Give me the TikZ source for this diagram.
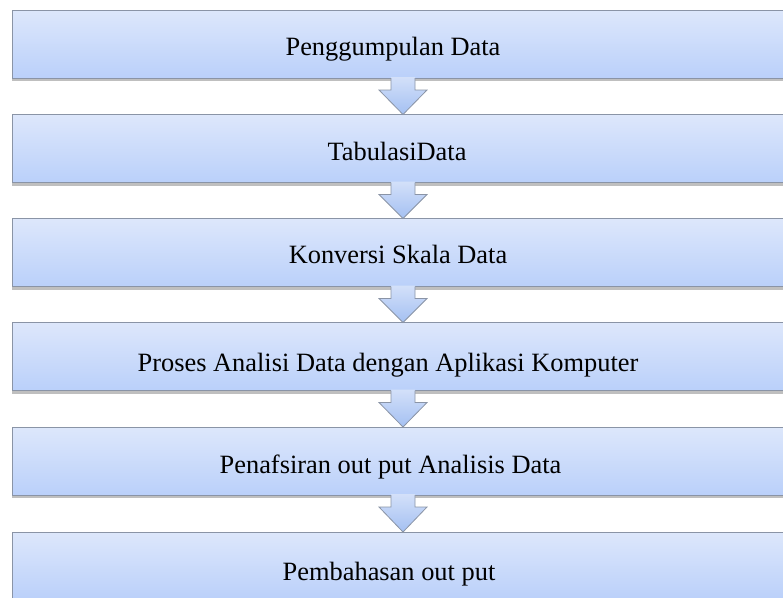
\documentclass[tikz,border=0pt]{standalone}
\usepackage{fontspec}
\setmainfont{Liberation Serif}
\usetikzlibrary{calc,shadows}
\definecolor{boxtop}{HTML}{DDE7FB}
\definecolor{boxbot}{HTML}{BAD0FA}
\definecolor{arrtop}{HTML}{D3E0F9}
\definecolor{arrbot}{HTML}{A4C0F2}
\definecolor{edgegray}{HTML}{8A94A6}
\tikzset{
  stagebox/.style={rectangle, minimum width=782pt, minimum height=68pt,
    inner sep=0pt, outer sep=0pt, draw=edgegray, line width=0.9pt,
    top color=boxtop, bottom color=boxbot,
    drop shadow={shadow xshift=0pt, shadow yshift=-3pt, opacity=0.25, fill=black}},
  stagelabel/.style={anchor=base, inner sep=0pt,
    font=\fontsize{26.4pt}{30pt}\selectfont},
  arrfill/.style={top color=arrtop, bottom color=arrbot},
  arrline/.style={draw=edgegray, line width=0.8pt, line join=miter},
}
\newcommand{\flowarrow}[2]{%
  \shade[arrfill] ($(#1.south)+(-12,-1)$) -- ($(#1.south)+(-12,12)$)
    -- ($(#1.south)+(-24,12)$) -- (#2.north) -- ($(#1.south)+(24,12)$)
    -- ($(#1.south)+(12,12)$) -- ($(#1.south)+(12,-1)$) -- cycle;
  \draw[arrline] ($(#1.south)+(-12,0)$) -- ($(#1.south)+(-12,12)$)
    -- ($(#1.south)+(-24,12)$) -- (#2.north) -- ($(#1.south)+(24,12)$)
    -- ($(#1.south)+(12,12)$) -- ($(#1.south)+(12,0)$);
}
\begin{document}
\begin{tikzpicture}[x=1pt,y=-1pt]
\useasboundingbox[fill=white] (0,0) rectangle (783,597);
\node[stagebox] (b1) at (403,44) {};
\node[stagebox] (b2) at (403,148.5) {};
\node[stagebox] (b3) at (403,252.5) {};
\node[stagebox] (b4) at (403,356.5) {};
\node[stagebox] (b5) at (403,461) {};
\node[stagebox] (b6) at (403,566) {};
\flowarrow{b1}{b2}
\flowarrow{b2}{b3}
\flowarrow{b3}{b4}
\flowarrow{b4}{b5}
\flowarrow{b5}{b6}
\node[stagelabel] (t1) at (393,55.7) {Penggumpulan Data};
\node[stagelabel] (t2) at (397,160) {TabulasiData};
\node[stagelabel] (t3) at (398,263.5) {Konversi Skala Data};
\node[stagelabel] (t4) at (388,371) {Proses Analisi Data dengan Aplikasi Komputer};
\node[stagelabel] (t5) at (390.5,473) {Penafsiran out put Analisis Data};
\node[stagelabel] (t6) at (389,580) {Pembahasan out put};
\end{tikzpicture}
\end{document}
